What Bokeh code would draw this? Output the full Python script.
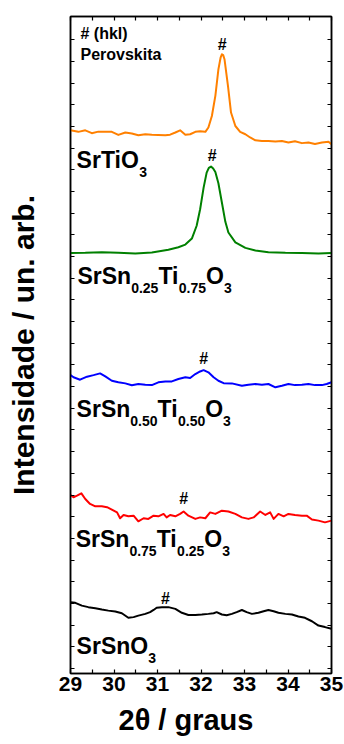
from bokeh.plotting import figure
from bokeh.models import Range1d, FixedTicker, LinearAxis, ColumnDataSource, Title
from bokeh.core.properties import value
from bokeh.embed import file_html
from bokeh.resources import INLINE

FONT = "Liberation Sans"

# ---------------- data (2theta in degrees, stacked intensity in arb. units) -------------
x_tick_values = [29, 30, 31, 32, 33, 34, 35]
x_tick_minor = [29.5, 30.5, 31.5, 32.5, 33.5, 34.5]

srtio3_x = [29.0, 29.18, 29.34, 29.49, 29.64, 29.80, 29.95, 30.10, 30.26, 30.41, 30.56, 30.72,
            30.87, 31.02, 31.18, 31.29, 31.41, 31.52, 31.64, 31.75, 31.87, 31.98, 32.10, 32.17,
            32.25, 32.33, 32.40, 32.45, 32.48, 32.51, 32.54, 32.62, 32.69, 32.79, 32.90, 33.02,
            33.13, 33.25, 33.40, 33.55, 33.71, 33.86, 34.01, 34.16, 34.32, 34.47, 34.62, 34.78,
            34.93, 35.0]
srtio3_y = [25.05, 24.98, 25.05, 24.92, 24.99, 24.98, 24.98, 24.84, 24.95, 24.90, 24.82, 24.87,
            24.85, 24.84, 24.82, 24.85, 24.95, 25.05, 24.85, 24.87, 24.98, 25.01, 24.98, 25.18,
            25.71, 26.64, 27.86, 28.40, 28.56, 28.52, 28.33, 27.10, 25.87, 25.25, 24.98, 24.87,
            24.72, 24.59, 24.56, 24.56, 24.53, 24.56, 24.49, 24.55, 24.46, 24.49, 24.42, 24.49,
            24.52, 24.41]

sn25_x = [29.0, 29.34, 29.72, 30.10, 30.49, 30.87, 31.25, 31.48, 31.64, 31.79, 31.90, 31.98,
          32.06, 32.13, 32.18, 32.23, 32.28, 32.33, 32.40, 32.48, 32.56, 32.63, 32.79, 33.02,
          33.25, 33.55, 33.94, 34.32, 34.70, 35.0]
sn25_y = [19.39, 19.40, 19.43, 19.40, 19.37, 19.42, 19.54, 19.66, 19.78, 20.06, 20.65, 21.41,
          22.41, 23.10, 23.32, 23.38, 23.29, 23.13, 22.61, 21.72, 20.83, 20.34, 19.88, 19.63,
          19.51, 19.43, 19.40, 19.39, 19.37, 19.39]

sn50_x = [29.0, 29.07, 29.22, 29.38, 29.53, 29.68, 29.80, 29.95, 30.10, 30.26, 30.41, 30.56,
          30.72, 30.87, 31.02, 31.18, 31.33, 31.48, 31.64, 31.75, 31.87, 31.98, 32.06, 32.17,
          32.29, 32.40, 32.52, 32.71, 32.94, 33.09, 33.25, 33.40, 33.55, 33.71, 33.86, 34.01,
          34.16, 34.32, 34.47, 34.62, 34.78, 34.89, 35.0]
sn50_y = [13.76, 13.66, 13.55, 13.69, 13.76, 13.84, 13.70, 13.50, 13.43, 13.38, 13.29, 13.35,
          13.32, 13.30, 13.43, 13.47, 13.47, 13.58, 13.66, 13.63, 13.81, 13.93, 13.99, 13.89,
          13.66, 13.50, 13.39, 13.38, 13.27, 13.32, 13.35, 13.32, 13.35, 13.20, 13.27, 13.35,
          13.30, 13.32, 13.35, 13.30, 13.30, 13.35, 13.43]

sn75_x = [29.0, 29.07, 29.15, 29.25, 29.34, 29.45, 29.57, 29.72, 29.84, 29.95, 30.07, 30.14,
          30.22, 30.33, 30.45, 30.56, 30.68, 30.79, 30.91, 31.02, 31.14, 31.21, 31.29, 31.41,
          31.52, 31.60, 31.71, 31.87, 31.98, 32.10, 32.21, 32.33, 32.48, 32.63, 32.79, 32.94,
          33.09, 33.21, 33.36, 33.48, 33.59, 33.67, 33.78, 33.90, 34.01, 34.16, 34.32, 34.43,
          34.55, 34.70, 34.85, 35.0]
sn75_y = [8.23, 8.13, 8.20, 8.31, 8.05, 7.82, 7.71, 7.71, 7.67, 7.56, 7.43, 7.16,
          7.31, 7.25, 7.28, 7.02, 7.16, 7.13, 7.28, 7.25, 7.36, 7.20, 7.31, 7.25,
          7.36, 7.47, 7.28, 7.13, 7.20, 7.16, 7.43, 7.36, 7.51, 7.47, 7.36, 7.20,
          7.13, 7.20, 7.47, 7.31, 7.43, 7.13, 7.36, 7.25, 7.36, 7.31, 7.28, 7.28,
          7.10, 7.05, 6.97, 7.05]

srsno3_x = [29.0, 29.11, 29.26, 29.41, 29.57, 29.72, 29.87, 30.03, 30.18, 30.33, 30.45, 30.56,
            30.72, 30.83, 30.91, 30.98, 31.10, 31.25, 31.41, 31.56, 31.71, 31.87, 32.02, 32.17,
            32.29, 32.36, 32.48, 32.59, 32.71, 32.82, 32.94, 33.05, 33.17, 33.32, 33.44, 33.55,
            33.67, 33.78, 33.94, 34.09, 34.24, 34.39, 34.55, 34.70, 34.85, 35.0]
srsno3_y = [3.29, 3.26, 3.13, 3.06, 3.01, 2.95, 2.90, 2.86, 2.78, 2.57, 2.60, 2.67,
            2.75, 2.83, 2.93, 3.03, 3.06, 3.06, 2.98, 2.80, 2.70, 2.70, 2.72, 2.75,
            2.78, 2.83, 2.72, 2.69, 2.75, 2.83, 2.93, 2.83, 2.75, 2.80, 2.87, 2.93,
            2.87, 2.80, 2.75, 2.72, 2.63, 2.57, 2.41, 2.21, 2.14, 2.06]

# perovskite (hkl) reflection markers
hash_x = [32.49, 32.26, 32.06, 31.60, 31.18]
hash_y = [29.03, 23.87, 14.52, 8.06, 3.46]

# sample names: (text, is_subscript) segments
sample_labels = [
    [("SrTiO", 0), ("3", 1)],
    [("SrSn", 0), ("0.25", 1), ("Ti", 0), ("0.75", 1), ("O", 0), ("3", 1)],
    [("SrSn", 0), ("0.50", 1), ("Ti", 0), ("0.50", 1), ("O", 0), ("3", 1)],
    [("SrSn", 0), ("0.75", 1), ("Ti", 0), ("0.25", 1), ("O", 0), ("3", 1)],
    [("SrSn", 0), ("O", 0), ("3", 1)],
]
label_x = [29.14, 29.16, 29.14, 29.12, 29.14]
label_y = [23.66, 18.34, 12.21, 6.22, 1.29]

series = [
    (srtio3_x, srtio3_y, "#FF8000"),
    (sn25_x, sn25_y, "#008000"),
    (sn50_x, sn50_y, "#0000FF"),
    (sn75_x, sn75_y, "#FF0000"),
    (srsno3_x, srsno3_y, "#000000"),
]

# ---------------- figure ----------------
p = figure(width=344, height=744, output_backend="svg", toolbar_location=None,
           x_range=Range1d(29, 35), y_range=Range1d(0, 30.3),
           min_border_left=70, min_border_right=13, min_border_top=16, min_border_bottom=71)
p.xgrid.visible = False
p.ygrid.visible = False
p.outline_line_color = "black"
p.outline_line_width = 1.5
p.outline_line_alpha = 1.0

y_ticks = [0.23 + k for k in range(30)]
x_all_ticks = sorted(x_tick_values + x_tick_minor)

def style_axis(ax, ticker):
    ax.ticker = ticker
    ax.axis_line_width = 1.5
    ax.axis_line_color = "black"
    ax.major_tick_in = 4
    ax.major_tick_out = 0
    ax.minor_tick_in = 4
    ax.minor_tick_out = 0
    ax.major_tick_line_width = 1.2
    ax.minor_tick_line_width = 1.2

# bottom axis: labelled integer ticks + half-degree minor ticks
style_axis(p.xaxis[0], FixedTicker(ticks=x_tick_values, minor_ticks=x_tick_minor))
p.xaxis[0].major_label_text_font = FONT
p.xaxis[0].major_label_text_font_style = "bold"
p.xaxis[0].major_label_text_font_size = "21px"
p.xaxis[0].major_label_text_color = "black"
p.xaxis[0].major_label_standoff = 3

# unlabelled axes: ticks only (as minor ticks, so that no labels are drawn)
style_axis(p.yaxis[0], FixedTicker(ticks=[], minor_ticks=y_ticks))
top = LinearAxis()
style_axis(top, FixedTicker(ticks=[], minor_ticks=x_all_ticks))
p.add_layout(top, "above")
right = LinearAxis()
style_axis(right, FixedTicker(ticks=[], minor_ticks=y_ticks))
p.add_layout(right, "right")

p.yaxis[0].axis_label = "Intensidade / un. arb."
p.yaxis[0].axis_label_text_font = FONT
p.yaxis[0].axis_label_text_font_style = "bold"
p.yaxis[0].axis_label_text_font_size = "30px"
p.yaxis[0].axis_label_text_color = "black"
p.yaxis[0].axis_label_standoff = 31

p.add_layout(Title(text="2θ / graus", align="left", offset=48, standoff=16, text_font=FONT,
                   text_font_style="bold", text_font_size="29px", text_color="black"),
             "below")

for xs, ys, c in series:
    p.line(xs, ys, line_color=c, line_width=2, line_join="round")

p.text(x=hash_x, y=hash_y, text=["#"] * len(hash_x), text_font=value(FONT),
       text_font_style="bold", text_font_size="16px", text_align="center",
       text_baseline="middle", text_color="black")

p.text(x=[29.23, 29.23], y=[29.50, 28.55], text=["# (hkl)", "Perovskita"],
       text_font=value(FONT), text_font_style="bold", text_font_size="16px",
       text_align="left", text_baseline="middle", text_color="black")

# compound names with subscripts (segments offset in screen pixels)
CW = {"S": .667, "r": .389, "n": .611, "T": .611, "i": .278, "O": .778, ".": .278}
MAIN, SUB = 23, 14
sx, sy, st, soff, syoff, ssize = [], [], [], [], [], []
for segs, lx, ly in zip(sample_labels, label_x, label_y):
    off = 0.0
    for txt, sub in segs:
        fs = SUB if sub else MAIN
        sx.append(lx); sy.append(ly); st.append(txt)
        soff.append(off); syoff.append(12 if sub else 0)
        ssize.append(f"{fs}px")
        off += sum(CW.get(ch, .556) for ch in txt) * fs
src = ColumnDataSource(dict(x=sx, y=sy, t=st, xo=soff, yo=syoff, fs=ssize))
p.text(x="x", y="y", text="t", x_offset="xo", y_offset="yo", text_font_size="fs",
       source=src, text_font=value(FONT), text_font_style="bold",
       text_align="left", text_baseline="middle", text_color="black")

open("out.html", "w").write(file_html(p, INLINE))
